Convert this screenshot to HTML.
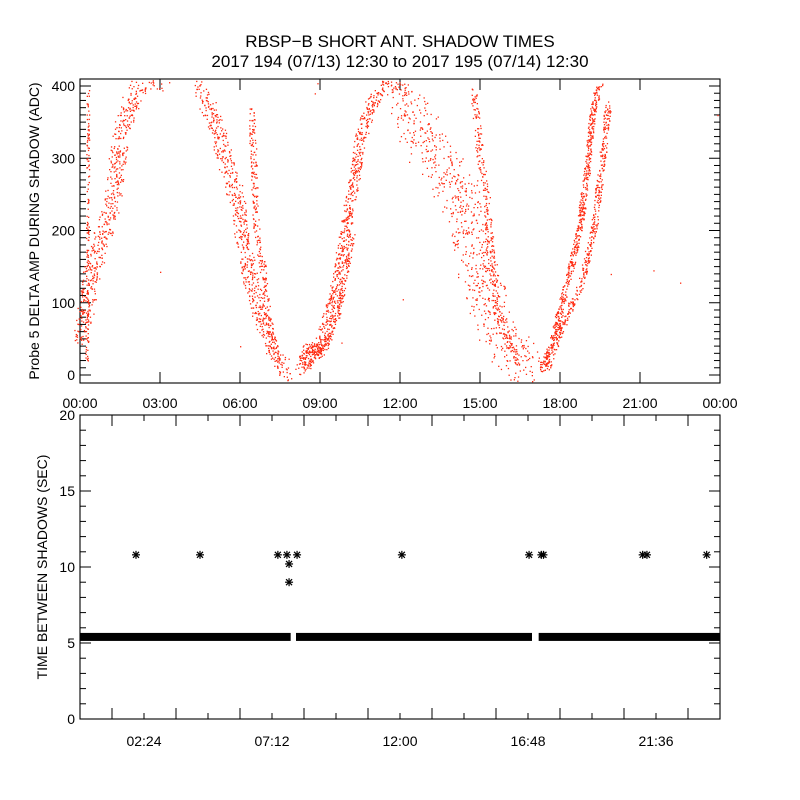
<!DOCTYPE html>
<html><head><meta charset="utf-8"><style>
body{margin:0;background:#fff}
svg{display:block;font-family:"Liberation Sans",sans-serif}
</style></head><body>
<svg id="c" width="800" height="800">
<rect width="800" height="800" fill="#fff"/>
<text x="400" y="47" text-anchor="middle" font-size="17">RBSP−B SHORT ANT. SHADOW TIMES</text>
<text x="400" y="67" text-anchor="middle" font-size="17">2017 194 (07/13) 12:30 to 2017 195 (07/14) 12:30</text>
<g id="topPanel"></g>
<g id="botPanel"></g>
</svg>
<script>
// Top panel tracks: [hour, value] centerlines
const trackA = [[0,50],[0.25,94],[0.45,150],[0.75,187],[1.0,205],[1.2,242],[1.4,297],[1.6,343],[2.0,390],[2.5,405],[3.1,405]];
const trackB = [[4.5,400],[5.1,343],[5.5,288],[5.9,242],[6.1,177],[6.5,113],[7.0,58],[7.4,21],[7.75,2]];
const trackB3 = [[6.4,372],[6.5,297],[6.6,205],[6.9,134],[7.1,63],[7.4,25]];
const trackC = [[8.25,7],[9.0,44],[9.5,108],[9.8,168],[10.0,214],[10.25,270],[10.5,330],[10.9,376],[11.6,404],[12.2,395]];
const trackC2 = [[8.4,10],[9.2,40],[9.7,90],[10.0,150],[10.2,200]];
const trackD = [[12.3,380],[12.8,330],[13.3,300],[13.8,280],[14.4,238],[14.75,168],[15.25,108],[15.9,53],[16.6,7],[16.8,2]];
const trackD2 = [[14.75,394],[15.0,300],[15.2,260],[15.4,168],[15.6,100],[16.0,50],[16.5,15]];
const trackE = [[17.25,5],[17.75,53],[18.25,127],[18.75,210],[19.0,283],[19.25,376],[19.5,400]];
const trackE2 = [[17.5,8],[18.1,72],[18.75,122],[19.25,200],[19.6,307],[19.8,376]];
const trackL = [[0.25,20],[0.3,400]];
const trackBump = [[8.3,25],[8.6,40],[8.9,30],[9.2,45]];
const tracks = [trackA,trackB,trackB3,trackC,trackC2,trackD,trackD2,trackE,trackE2,trackL,trackBump];
const spreads = [18,16,7,12,6,40,8,7,7,3,10];
const densities = [2,2,1,2,1.3,2.2,1,2,1.5,0.5,3];
const strayPts = [[3.0,143],[8.9,404],[8.8,390],[12.1,105],[19.9,140],[21.5,145],[22.5,128],[23.9,360],[9.8,45],[6.0,40]];
// Bottom panel
const bandValue = 5.4;
const bandSegments = [[0,7.9],[8.1,16.95],[17.2,24]];
const outlierHours = [2.1,4.5,7.42,7.76,8.14,12.07,16.84,17.3,17.38,21.1,21.26,23.5];
const outlierValues = [10.8,10.8,10.8,10.8,10.8,10.8,10.8,10.8,10.8,10.8,10.8,10.8];
const extraHours = [7.84,7.84];
const extraValues = [10.2,9.0];
const topTicks = ["00:00","03:00","06:00","09:00","12:00","15:00","18:00","21:00","00:00"];
const botTicks = ["02:24","07:12","12:00","16:48","21:36"];

const NS="http://www.w3.org/2000/svg";
function mk(p,t,a){const e=document.createElementNS(NS,t);for(const k in a)e.setAttribute(k,a[k]);p.appendChild(e);return e;}
const L=80,R=720;
const xS=h=>L+h*(R-L)/24;
const yT=v=>375-v*0.7225;
const yB=v=>719-v*15.2;
const topG=document.getElementById('topPanel'), botG=document.getElementById('botPanel');
let seed=12345;function rnd(){seed=(seed*1103515245+12345)%2147483648;return seed/2147483648;}

// top axes
let f=mk(topG,'rect',{x:L,y:79,width:R-L,height:304,fill:'none',stroke:'#000','stroke-width':1.1});

for(let v=0;v<=400;v+=10){const y=yT(v);const m=v%100===0;const len=m?11:6;
 mk(topG,'line',{x1:L,x2:L+len,y1:y,y2:y,stroke:'#000'});mk(topG,'line',{x1:R,x2:R-len,y1:y,y2:y,stroke:'#000'});
 if(m){const t=mk(topG,'text',{x:L-5,y:y+5,'text-anchor':'end','font-size':14});t.textContent=v;
 }}
topTicks.forEach((s,i)=>{const x=xS(i*3);
 mk(topG,'line',{x1:x,x2:x,y1:383,y2:372,stroke:'#000'});mk(topG,'line',{x1:x,x2:x,y1:79,y2:90,stroke:'#000'});
 const t=mk(topG,'text',{x:x,y:408,'text-anchor':'middle','font-size':14});t.textContent=s;
 });
let yt=mk(topG,'text',{transform:'translate(39,231) rotate(-90)','text-anchor':'middle','font-size':14});
yt.textContent='Probe 5 DELTA AMP DURING SHADOW (ADC)';


// scatter
const dots=mk(topG,'g',{fill:'#ff2a10'});

tracks.forEach((tr,ti)=>{for(let i=0;i<tr.length-1;i++){const [h0,v0]=tr[i],[h1,v1]=tr[i+1];
 const x0=xS(h0),y0=yT(v0),x1=xS(h1),y1=yT(v1);const len=Math.hypot(x1-x0,y1-y0);
 const n=Math.round(len*densities[ti]);
 for(let k=0;k<n;k++){const t=rnd();const x=x0+(x1-x0)*t+(rnd()-0.5)*spreads[ti]*0.9;
  let y=y0+(y1-y0)*t+(rnd()-0.5)*spreads[ti];if(y<80||y>382)continue;
  const d=mk(dots,'rect',{x:x.toFixed(1),y:y.toFixed(1),width:1.3,height:1.3});
  }}});
strayPts.forEach(p=>{const d=mk(dots,'rect',{x:xS(p[0]),y:yT(p[1]),width:1.3,height:1.3});
 });

// bottom axes
f=mk(botG,'rect',{x:L,y:415,width:R-L,height:304,fill:'none',stroke:'#000','stroke-width':1.1});

for(let v=0;v<=20;v++){const y=yB(v);const m=v%5===0;const len=m?11:6;
 mk(botG,'line',{x1:L,x2:L+len,y1:y,y2:y,stroke:'#000'});mk(botG,'line',{x1:R,x2:R-len,y1:y,y2:y,stroke:'#000'});
 if(m){const t=mk(botG,'text',{x:L-5,y:y+5,'text-anchor':'end','font-size':14});t.textContent=v;
 }}
for(let i=0;i<=20;i++){const x=xS(i*1.2);const m=i%2===1;const len=m?11:6;
 mk(botG,'line',{x1:x,x2:x,y1:719,y2:719-len,stroke:'#000'});mk(botG,'line',{x1:x,x2:x,y1:415,y2:415+len,stroke:'#000'});}
botTicks.forEach((s,i)=>{const t=mk(botG,'text',{x:xS(2.4+i*4.8),y:746,'text-anchor':'middle','font-size':14});t.textContent=s;
 });
yt=mk(botG,'text',{transform:'translate(47,567) rotate(-90)','text-anchor':'middle','font-size':14});
yt.textContent='TIME BETWEEN SHADOWS (SEC)';

bandSegments.forEach(s=>{const r=mk(botG,'rect',{x:xS(s[0]),y:yB(bandValue)-4,width:xS(s[1])-xS(s[0]),height:8,fill:'#000'});
 });
function star(h,v){const x=xS(h),y=yB(v);const g=mk(botG,'g',{stroke:'#000','stroke-width':1.2});
 
 mk(g,'line',{x1:x-4,x2:x+4,y1:y,y2:y});mk(g,'line',{x1:x,x2:x,y1:y-4,y2:y+4});
 mk(g,'line',{x1:x-3,x2:x+3,y1:y-3,y2:y+3});mk(g,'line',{x1:x-3,x2:x+3,y1:y+3,y2:y-3});}
outlierHours.forEach((h,i)=>star(h,outlierValues[i]));
extraHours.forEach((h,i)=>star(h,extraValues[i]));
</script>
</body></html>
